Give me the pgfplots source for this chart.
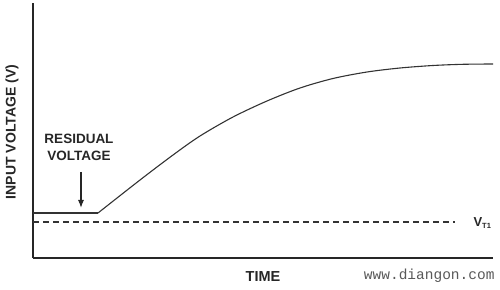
\documentclass[border=0pt]{standalone}
\usepackage{pgfplots}
\pgfplotsset{compat=1.18}
\usetikzlibrary{arrows.meta}
\usepackage{fontspec}
\setmainfont{Liberation Sans}
\newfontfamily\monofont{Liberation Mono}
\begin{document}
\begin{tikzpicture}[x=1pt,y=1pt]
\path[use as bounding box] (0,0) rectangle (500,289);
\begin{axis}[
  at={(33pt,31pt)}, anchor=origin,
  width=460pt, height=255pt, scale only axis,
  xmin=33, xmax=493, ymin=31, ymax=286,
  axis x line=bottom, axis y line=left,
  axis line style={-, line width=1.3pt, color=black!85},
  xtick=\empty, ytick=\empty,
  clip=false,
]
\addplot[line width=1.1pt, color=black!80] coordinates {(33,76) (98,76)};
\addplot[line width=1.1pt, color=black!80, smooth, tension=0.5] coordinates {
 (98,76) (140,109) (173,134) (200,153) (233,172) (267,188) (300,201)
 (333,210.5) (367,217) (400,221) (433,223.5) (463,224.7) (493,225)};
\addplot[line width=1.1pt, color=black!80, dash pattern=on 6pt off 4pt] coordinates {(33,67) (455,67)};
\draw[line width=1.1pt, color=black!85, -{Latex[length=8pt,width=6pt]}] (axis cs:81,117) -- (axis cs:81,81);
\end{axis}
\node[font=\bfseries\fontsize{14}{16}\selectfont, rotate=90, color=black!85] at (12,157) {INPUT VOLTAGE (V)};
\node[font=\bfseries\fontsize{14.5}{16}\selectfont, color=black!85] at (263,12) {TIME};
\node[font=\bfseries\fontsize{13.5}{17}\selectfont, align=center, color=black!85] at (79,142) {RESIDUAL\\VOLTAGE};
\node[font=\bfseries\fontsize{13}{14}\selectfont, anchor=west, color=black!85] at (470,66) {V\textsubscript{\fontsize{7.5}{8}\selectfont T1}};
\node[font=\monofont\fontsize{14.5}{15}\selectfont, anchor=east, color=black!65] at (498,13) {www.diangon.com};
\end{tikzpicture}
\end{document}
